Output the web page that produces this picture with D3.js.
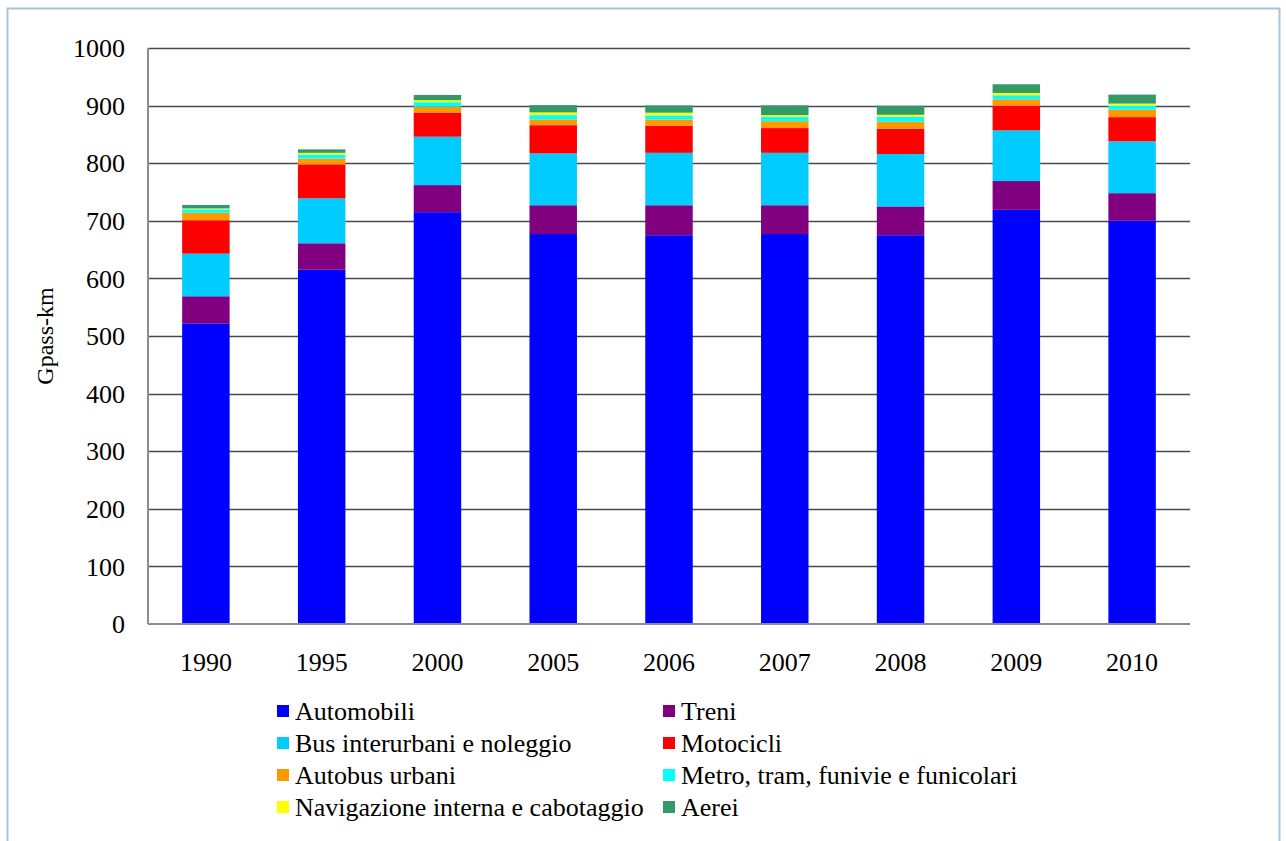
<!DOCTYPE html>
<html lang="it">
<head>
<meta charset="utf-8">
<title>Gpass-km per modo di trasporto</title>
<script src="https://d3js.org/d3.v7.min.js"></script>
<style>
  body { margin: 0; background: #fff; }
  text { font-family: "Liberation Serif", "Times New Roman", serif; fill: #000; }
</style>
</head>
<body>
<script>
// data (Gpass-km)
var years = ["1990", "1995", "2000", "2005", "2006", "2007", "2008", "2009", "2010"];
var seriesNames = ["Automobili", "Treni", "Bus interurbani e noleggio", "Motocicli",
                   "Autobus urbani", "Metro, tram, funivie e funicolari",
                   "Navigazione interna e cabotaggio", "Aerei"];
var colors = ["#0000ff", "#800080", "#00ccff", "#ff0000", "#ff9900", "#00ffff", "#ffff00", "#339966"];

var automobili  = [522, 615, 715, 677, 675, 677, 675, 719, 700];
var treni       = [47, 46, 47, 50, 52, 50, 50, 50, 48];
var busInter    = [74, 78, 84, 90, 91, 91, 91, 88, 90];
var motocicli   = [58, 59, 42, 49, 47, 43, 44, 43, 42];
var autobusUrb  = [13, 10, 10, 10, 11, 12, 12, 11, 13];
var metro       = [6, 7, 8, 7.5, 7, 7.4, 8.7, 7, 7];
var navigazione = [1.5, 3, 3.4, 4.7, 4.7, 3, 3.4, 4, 3.5];
var aerei       = [6, 6, 9, 12.6, 12.6, 17, 15.6, 15, 15.6];
var yTicks = [0, 100, 200, 300, 400, 500, 600, 700, 800, 900, 1000];

var allSeries = [automobili, treni, busInter, motocicli, autobusUrb, metro, navigazione, aerei];

var W = 1286, H = 841;
var margin = {left: 148, right: 96, top: 48, bottom: 217};

var svg = d3.select("body").append("svg")
  .attr("width", W).attr("height", H);

// outer frame
svg.append("rect")
  .attr("x", 7.5).attr("y", 8.5)
  .attr("width", 1272).attr("height", 845)
  .attr("fill", "none")
  .attr("stroke", "#a5c3d9")
  .attr("stroke-width", 2);

var table = years.map(function(y, i) {
  var row = {year: y};
  seriesNames.forEach(function(s, j) { row[s] = allSeries[j][i]; });
  return row;
});

var stacked = d3.stack().keys(seriesNames)(table);

var x = d3.scaleBand()
  .domain(years)
  .range([margin.left, W - margin.right])
  .paddingInner(0.59)
  .paddingOuter(0.295);

var y = d3.scaleLinear()
  .domain([0, 1000])
  .range([H - margin.bottom, margin.top]);

// gridlines
svg.append("g")
  .selectAll("line")
  .data(yTicks.slice(1))
  .enter().append("line")
  .attr("x1", margin.left).attr("x2", W - margin.right)
  .attr("y1", function(d) { return Math.round(y(d)) + 0.5; })
  .attr("y2", function(d) { return Math.round(y(d)) + 0.5; })
  .attr("stroke", "#4a4a4a")
  .attr("stroke-width", 1.5);

// bars
var layers = svg.append("g")
  .selectAll("g")
  .data(stacked)
  .enter().append("g")
  .attr("fill", function(d, i) { return colors[i]; });

layers.selectAll("rect")
  .data(function(d) { return d; })
  .enter().append("rect")
  .attr("x", function(d) { return x(d.data.year); })
  .attr("width", x.bandwidth())
  .attr("y", function(d) { return y(d[1]); })
  .attr("height", function(d) { return y(d[0]) - y(d[1]); });

// axes lines
svg.append("line")
  .attr("x1", margin.left).attr("x2", margin.left)
  .attr("y1", margin.top).attr("y2", H - margin.bottom)
  .attr("stroke", "#8c8c8c").attr("stroke-width", 2);
svg.append("line")
  .attr("x1", margin.left).attr("x2", W - margin.right)
  .attr("y1", H - margin.bottom).attr("y2", H - margin.bottom)
  .attr("stroke", "#8c8c8c").attr("stroke-width", 2);

// y tick labels
svg.append("g")
  .selectAll("text")
  .data(yTicks)
  .enter().append("text")
  .attr("x", 125)
  .attr("y", function(d) { return y(d); })
  .attr("dy", "0.35em")
  .attr("text-anchor", "end")
  .style("font-size", "26px")
  .text(function(d) { return d; });

// x tick labels
svg.append("g")
  .selectAll("text")
  .data(years)
  .enter().append("text")
  .attr("x", function(d) { return x(d) + x.bandwidth() / 2; })
  .attr("y", 671)
  .attr("text-anchor", "middle")
  .style("font-size", "26px")
  .text(function(d) { return d; });

// y axis title
svg.append("text")
  .attr("transform", "translate(53," + y(500) + ") rotate(-90)")
  .attr("text-anchor", "middle")
  .style("font-size", "24px")
  .text("Gpass-km");

// legend
var legend = svg.append("g")
  .selectAll("g")
  .data(seriesNames)
  .enter().append("g")
  .attr("transform", function(d, i) {
    var col = i % 2, row = Math.floor(i / 2);
    return "translate(" + (col === 0 ? 277 : 663) + "," + (711 + row * 32) + ")";
  });

legend.append("rect")
  .attr("x", 0).attr("y", -6)
  .attr("width", 12).attr("height", 12)
  .attr("fill", function(d, i) { return colors[i]; });

legend.append("text")
  .attr("x", 18)
  .attr("dy", "0.33em")
  .style("font-size", "26px")
  .text(function(d) { return d; });
</script>
</body>
</html>
